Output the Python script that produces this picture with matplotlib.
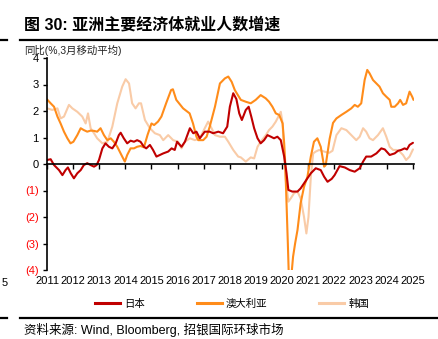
import matplotlib
matplotlib.use("Agg")
import matplotlib.pyplot as plt
from matplotlib.lines import Line2D

plt.rcParams['font.family'] = ['Liberation Sans', 'Noto Sans CJK SC', 'DejaVu Sans']

# ---------------- data ----------------
years = list(range(2011, 2026))
year_labels = [str(y) for y in years]
ytick_vals = [-4, -3, -2, -1, 0, 1, 2, 3, 4]
ytick_labels = ['(4)', '(3)', '(2)', '(1)', '0', '1', '2', '3', '4']

japan_t = [2011.00, 2011.14, 2011.27, 2011.46, 2011.59, 2011.71, 2011.80, 2011.91, 2012.03, 2012.16,
           2012.29, 2012.41, 2012.54, 2012.67, 2012.80, 2012.90, 2012.99, 2013.12, 2013.24, 2013.37,
           2013.50, 2013.63, 2013.75, 2013.82, 2013.94, 2014.07, 2014.20, 2014.33, 2014.45, 2014.58,
           2014.71, 2014.80, 2014.94, 2015.06, 2015.19, 2015.45, 2015.64, 2015.77, 2015.89, 2015.98,
           2016.15, 2016.28, 2016.47, 2016.60, 2016.72, 2016.85, 2017.04, 2017.23, 2017.36, 2017.56,
           2017.74, 2017.90, 2018.00, 2018.13, 2018.25, 2018.36, 2018.46, 2018.61, 2018.72, 2018.82,
           2018.93, 2019.06, 2019.18, 2019.31, 2019.44, 2019.57, 2019.69, 2019.82, 2019.95, 2020.08,
           2020.17, 2020.24, 2020.39, 2020.59, 2020.71, 2020.84, 2020.97, 2021.10, 2021.29, 2021.48,
           2021.61, 2021.74, 2021.90, 2022.01, 2022.20, 2022.40, 2022.59, 2022.78, 2022.97, 2023.10,
           2023.22, 2023.41, 2023.61, 2023.80, 2023.93, 2024.12, 2024.31, 2024.44, 2024.56, 2024.69,
           2024.78, 2024.88, 2025.01]
japan_v = [0.15, 0.18, -0.04, -0.23, -0.42, -0.23, -0.13, -0.35, -0.54, -0.35,
           -0.23, -0.04, 0.03, -0.04, -0.10, -0.04, 0.15, 0.59, 0.78, 0.65,
           0.59, 0.78, 1.09, 1.18, 0.97, 0.78, 0.88, 0.84, 0.90, 0.84,
           0.65, 0.59, 0.72, 0.53, 0.28, 0.40, 0.47, 0.59, 0.53, 0.84,
           0.65, 0.84, 1.35, 1.16, 1.22, 0.97, 1.22, 1.22, 1.16, 1.22,
           1.16, 1.41, 2.16, 2.67, 2.45, 1.91, 1.66, 2.04, 2.16, 1.79,
           1.35, 0.97, 0.78, 0.90, 1.09, 1.03, 0.97, 1.03, 0.90, 0.28,
           -0.35, -0.98, -1.04, -1.04, -0.92, -0.73, -0.54, -0.35, -0.16, -0.23,
           -0.48, -0.67, -0.56, -0.42, -0.08, -0.13, -0.23, -0.29, -0.16, 0.09,
           0.28, 0.28, 0.40, 0.59, 0.55, 0.34, 0.40, 0.50, 0.53, 0.59,
           0.55, 0.72, 0.80]

aus_t = [2011.00, 2011.14, 2011.27, 2011.40, 2011.52, 2011.65, 2011.78, 2011.90, 2012.01, 2012.16,
         2012.29, 2012.41, 2012.54, 2012.67, 2012.80, 2012.92, 2013.05, 2013.18, 2013.31, 2013.44,
         2013.56, 2013.69, 2013.88, 2013.98, 2014.07, 2014.20, 2014.33, 2014.45, 2014.58, 2014.71,
         2014.85, 2015.00, 2015.10, 2015.25, 2015.38, 2015.56, 2015.75, 2015.82, 2015.95, 2016.21,
         2016.46, 2016.59, 2016.72, 2016.79, 2016.98, 2017.11, 2017.23, 2017.43, 2017.62, 2017.81,
         2017.94, 2018.07, 2018.19, 2018.42, 2018.61, 2018.80, 2018.99, 2019.18, 2019.37, 2019.50,
         2019.63, 2019.76, 2019.89, 2020.02, 2020.08, 2020.12, 2020.17, 2020.22, 2020.26, 2020.33,
         2020.42, 2020.50, 2020.59, 2020.71, 2020.84, 2020.97, 2021.10, 2021.22, 2021.35, 2021.48,
         2021.61, 2021.67, 2021.82, 2021.95, 2022.08, 2022.27, 2022.46, 2022.65, 2022.78, 2022.90,
         2023.03, 2023.16, 2023.26, 2023.35, 2023.48, 2023.61, 2023.73, 2023.86, 2023.99, 2024.12,
         2024.18, 2024.31, 2024.44, 2024.52, 2024.63, 2024.75, 2024.88, 2024.98, 2025.03]
aus_v = [2.44, 2.29, 2.16, 1.79, 1.53, 1.22, 0.97, 0.78, 0.84, 1.09,
         1.35, 1.28, 1.22, 1.26, 1.25, 1.22, 1.35, 1.09, 0.90, 0.97,
         0.84, 0.65, 0.28, 0.09, 0.34, 0.59, 0.59, 0.65, 0.68, 0.63,
         1.10, 1.53, 1.47, 1.60, 1.79, 2.29, 2.79, 2.82, 2.42, 2.10,
         1.91, 1.53, 1.03, 0.90, 0.90, 1.03, 1.41, 2.16, 3.04, 3.23,
         3.30, 3.10, 2.79, 2.42, 2.35, 2.29, 2.42, 2.60, 2.48, 2.35,
         2.16, 1.91, 1.85, 1.53, 0.78, 0.03, -1.48, -2.99, -4.30, -4.50,
         -3.50, -2.99, -2.49, -1.48, -0.86, -0.48, 0.28, 0.84, 0.97, 0.65,
         -0.10, -0.04, 0.95, 1.55, 1.72, 1.85, 1.97, 2.10, 2.23, 2.16,
         2.29, 3.17, 3.55, 3.42, 3.17, 3.04, 2.92, 2.67, 2.54, 2.42,
         2.16, 2.16, 2.29, 2.42, 2.23, 2.29, 2.73, 2.54, 2.42]

kor_t = [2011.01, 2011.20, 2011.40, 2011.52, 2011.65, 2011.84, 2011.97, 2012.16, 2012.35, 2012.48,
         2012.57, 2012.67, 2012.80, 2012.92, 2013.12, 2013.31, 2013.50, 2013.69, 2013.88, 2014.01,
         2014.14, 2014.26, 2014.39, 2014.52, 2014.60, 2014.75, 2014.94, 2015.13, 2015.32, 2015.45,
         2015.64, 2015.83, 2016.02, 2016.15, 2016.28, 2016.47, 2016.66, 2016.85, 2017.04, 2017.17,
         2017.30, 2017.43, 2017.62, 2017.81, 2017.94, 2018.13, 2018.32, 2018.42, 2018.61, 2018.80,
         2018.93, 2019.06, 2019.18, 2019.38, 2019.50, 2019.63, 2019.76, 2019.89, 2019.95, 2020.02,
         2020.08, 2020.14, 2020.24, 2020.33, 2020.46, 2020.59, 2020.71, 2020.84, 2020.93, 2021.01,
         2021.10, 2021.19, 2021.29, 2021.42, 2021.61, 2021.80, 2021.93, 2022.08, 2022.27, 2022.46,
         2022.65, 2022.84, 2022.97, 2023.10, 2023.22, 2023.35, 2023.48, 2023.67, 2023.86, 2023.99,
         2024.12, 2024.25, 2024.37, 2024.50, 2024.63, 2024.75, 2024.88, 2025.01]
kor_v = [2.10, 2.04, 2.10, 1.72, 1.79, 2.23, 2.10, 1.97, 1.79, 1.53,
         1.91, 1.35, 1.16, 0.97, 0.78, 0.84, 1.41, 2.29, 2.92, 3.20,
         3.04, 2.29, 2.10, 2.29, 2.29, 1.66, 1.35, 1.16, 1.09, 0.90,
         1.09, 0.90, 0.84, 0.59, 0.84, 0.97, 0.90, 0.97, 1.35, 1.60,
         1.35, 1.09, 1.03, 1.03, 0.84, 0.53, 0.28, 0.25, 0.09, 0.25,
         0.21, 0.65, 0.84, 1.09, 1.28, 1.41, 1.60, 1.85, 1.97, 1.53,
         0.28, -0.60, -1.42, -1.30, -1.10, -1.04, -1.30, -2.00, -2.62, -2.00,
         -0.48, 0.40, 0.47, 0.53, 0.47, 0.42, 0.50, 1.09, 1.35, 1.28,
         1.09, 0.90, 1.03, 1.35, 1.22, 0.97, 0.90, 1.09, 1.35, 1.03,
         0.65, 0.53, 0.53, 0.47, 0.34, 0.15, 0.28, 0.55]

series_names = ['日本', '澳大利亚', '韩国']
series_colors = ['#C00000', '#FF8C1A', '#F9CBA7']

title_text = '图 30: 亚洲主要经济体就业人数增速'
subtitle_text = '同比(%,3月移动平均)'
source_text = '资料来源: Wind, Bloomberg, 招银国际环球市场'

# ---------------- figure ----------------
W, H = 438, 339
fig = plt.figure(figsize=(W / 100, H / 100), dpi=100)
fig.patch.set_facecolor('white')

def fx(px):
    return px / W

def fy(py):
    return 1 - py / H

ax = fig.add_axes([fx(47), fy(270), fx(414) - fx(47), fy(58) - fy(270)])
ax.set_facecolor('white')

lw = 1.5
ax.plot(kor_t, kor_v, color=series_colors[2], lw=lw, zorder=2, solid_capstyle='round')
ax.plot(aus_t, aus_v, color=series_colors[1], lw=lw, zorder=2.1, solid_capstyle='round')
ax.plot(japan_t, japan_v, color=series_colors[0], lw=lw, zorder=2.2, solid_capstyle='round')

ax.set_xlim(2011, 2025.05)
ax.set_ylim(-4, 4)

for s in ['top', 'right']:
    ax.spines[s].set_visible(False)
ax.spines['left'].set_linewidth(1.2)
ax.spines['bottom'].set_position(('data', 0))
ax.spines['bottom'].set_linewidth(1.2)
ax.spines['bottom'].set_zorder(3)

ax.set_xticks(years)
ax.tick_params(axis='x', direction='out', length=3.5, width=1.0, labelbottom=False)

sec = ax.secondary_xaxis('bottom')
sec.set_xticks(years)
sec.set_xticklabels(year_labels)
sec.spines['bottom'].set_visible(False)
sec.tick_params(axis='x', length=0, pad=4, labelsize=8)

ax.set_yticks(ytick_vals)
ax.set_yticklabels(ytick_labels)
ax.tick_params(axis='y', direction='out', length=3, width=1.0, pad=3, labelsize=8)
for lab, v in zip(ax.get_yticklabels(), ytick_vals):
    lab.set_color('#FF0000' if v < 0 else 'black')

# ---------------- texts and rules ----------------
fig.text(fx(24), fy(25), title_text, fontsize=11.5, fontweight='bold', va='center', ha='left')
fig.add_artist(Line2D([fx(20), 1.0], [fy(40), fy(40)], color='black', lw=1.6))
fig.add_artist(Line2D([0.0, fx(7)], [fy(40), fy(40)], color='black', lw=1.6))
fig.text(fx(24), fy(50), subtitle_text, fontsize=7.5, va='center', ha='left', color='#222222')

fig.text(fx(2), fy(283), '5', fontsize=8, va='center', ha='left')

handles = [Line2D([], [], color=c, lw=2.2) for c in series_colors]
fig.legend(handles, series_names, loc='center', bbox_to_anchor=(fx(232), fy(304)), ncol=3,
           frameon=False, fontsize=7.5, handlelength=2.4, handletextpad=0.4, columnspacing=5.0)

fig.add_artist(Line2D([fx(20), 1.0], [fy(318), fy(318)], color='black', lw=1.6))
fig.add_artist(Line2D([0.0, fx(7)], [fy(318), fy(318)], color='black', lw=1.6))
fig.text(fx(24), fy(330), source_text, fontsize=9, va='center', ha='left')

fig.savefig('out.png', dpi=100, facecolor='white')
